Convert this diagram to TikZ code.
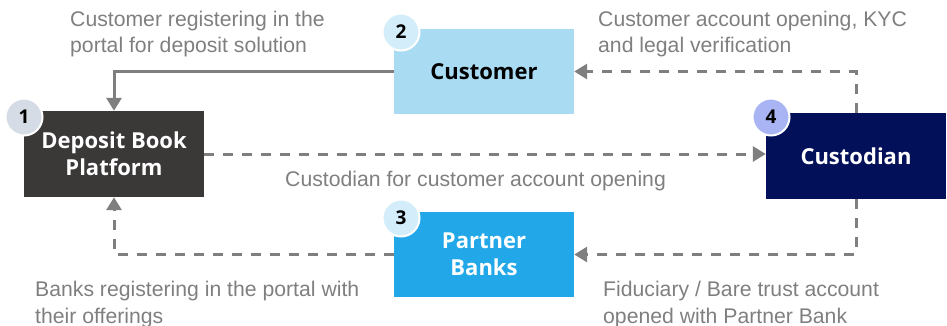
\documentclass[tikz,border=0pt]{standalone}
\usepackage{fontspec}
\setmainfont{Liberation Sans}
\newfontfamily\boxfont{Open Sans}
\usetikzlibrary{arrows.meta}
\definecolor{platformgray}{HTML}{3B3838}
\definecolor{customerblue}{HTML}{A9DCF3}
\definecolor{bankblue}{HTML}{22A8E9}
\definecolor{custodiannavy}{HTML}{02105A}
\definecolor{badgegray}{HTML}{D6DCE5}
\definecolor{badgeblue}{HTML}{D3EEFA}
\definecolor{badgeviolet}{HTML}{A9B4F5}
\definecolor{linkgray}{HTML}{7F7F7F}
\begin{document}
\begin{tikzpicture}[x=1pt,y=-1pt,
  stagebox/.style={minimum width=180pt,minimum height=86pt,inner sep=0pt,
    align=center,font=\boxfont\bfseries\fontsize{22}{27}\selectfont},
  badge/.style={circle,minimum size=37pt,inner sep=0pt,draw=white,line width=2pt,
    font=\boxfont\bfseries\fontsize{19}{20}\selectfont},
  caption/.style={anchor=base west,align=left,inner sep=0pt,text=linkgray,
    font=\fontsize{21.2}{26.2}\selectfont},
  link/.style={draw=linkgray,line width=3pt,-{Triangle[length=13pt,width=15pt]}},
  dashlink/.style={link,dash pattern=on 10pt off 9pt}]
\useasboundingbox (0,0) rectangle (947,326);

% stage boxes
\node[stagebox,fill=platformgray,text=white] (dbp) at (114,154) {Deposit Book\\Platform};
\node[stagebox,fill=customerblue,text=black,minimum height=85pt] (cust) at (484,71.5) {Customer};
\node[stagebox,fill=bankblue,text=white,minimum height=85pt] (pb) at (484,254.5) {Partner\\Banks};
\node[stagebox,fill=custodiannavy,text=white] (cus4) at (856,156) {Custodian};

% number badges
\node[badge,fill=badgegray] (n1) at (24,117) {1};
\node[badge,fill=badgeblue] (n2) at (401,32) {2};
\node[badge,fill=badgeblue] (n3) at (401,218) {3};
\node[badge,fill=badgeviolet] (n4) at (771,117) {4};

% connectors
\draw[link] (cust.west) -| (dbp.north);
\draw[dashlink] (dbp.east) -- (dbp.east -| cus4.west);
\draw[dashlink] (cus4.north) |- (cust.east);
\draw[dashlink] (cus4.south) |- (pb.east);
\draw[dashlink] (pb.west) -| (dbp.south);

% captions (anchored at the baseline of their last line)
\node[caption] (c1) at (70,53) {Customer registering in the\\portal for deposit solution};
\node[caption] (c2) at (598,53) {Customer account opening, KYC\\and legal verification};
\node[caption] (c3) at (285,186) {Custodian for customer account opening};
\node[caption] (c4) at (35,323) {Banks registering in the portal with\\their offerings};
\node[caption] (c5) at (603,323) {Fiduciary / Bare trust account\\opened with Partner Bank};
\end{tikzpicture}
\end{document}
